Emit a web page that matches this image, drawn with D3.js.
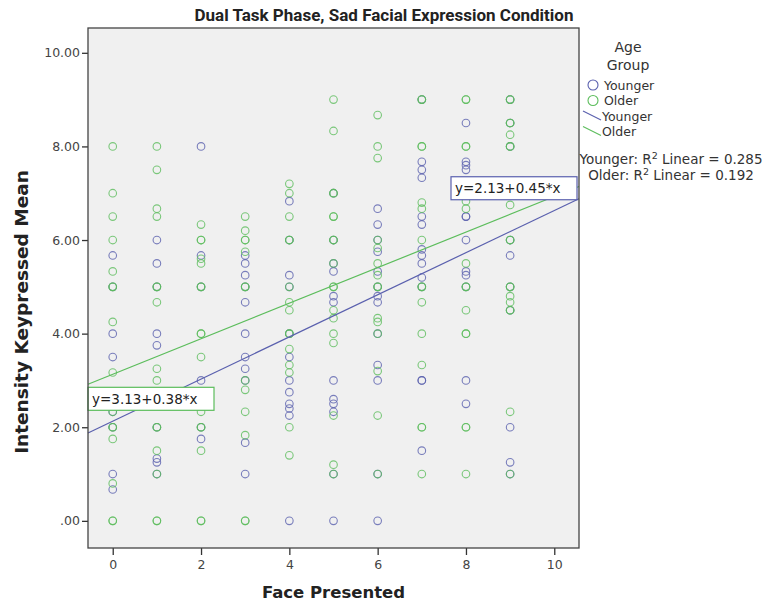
<!DOCTYPE html>
<html>
<head>
	<meta charset="utf-8">
	<title>Dual Task Phase, Sad Facial Expression Condition</title>
	<script src="https://d3js.org/d3.v7.min.js"></script>
	<style>
		body { margin: 0; background: #fff; }
	</style>
</head>
<body>
	<div class="chart"></div>

	<script type="text/javascript">

		// face presented (x categories)
		const faces = [0, 1, 2, 3, 4, 5, 6, 7, 8, 9]

		// intensity keypressed mean, one list per face
		const younger = [
			[5.67, 5.0, 4.0, 3.5, 2.33, 2.0, 1.0, 0.67],
			[6.0, 5.5, 5.0, 4.0, 3.75, 2.0, 1.33, 1.25, 1.0],
			[8.0, 5.67, 5.0, 3.0, 2.0, 1.75],
			[5.67, 5.5, 5.25, 5.0, 4.67, 4.0, 3.5, 3.25, 3.0, 1.67, 1.0],
			[6.83, 6.0, 5.25, 5.0, 4.0, 3.5, 3.0, 2.75, 2.5, 2.4, 2.25, 0],
			[7.0, 6.0, 5.5, 5.33, 4.8, 4.67, 3.0, 2.6, 2.5, 2.33, 1.0, 0],
			[6.67, 6.33, 6.0, 5.75, 5.33, 5.0, 4.8, 4.67, 4.0, 3.33, 3.0, 1.0, 0],
			[9.0, 7.67, 7.5, 7.33, 6.5, 6.33, 5.8, 5.67, 5.5, 5.2, 5.0, 3.0, 3.0, 1.5],
			[8.5, 7.67, 7.6, 7.5, 6.5, 6.5, 6.0, 5.33, 5.25, 5.0, 3.0, 2.5],
			[9.0, 8.5, 8.0, 6.0, 5.67, 5.0, 4.5, 2.0, 1.25, 1.0]
		]
		const older = [
			[8.0, 7.0, 6.5, 6.0, 5.33, 5.0, 5.0, 4.25, 3.17, 2.33, 2.0, 2.0, 1.75, 0.8, 0, 0],
			[8.0, 7.5, 6.67, 6.5, 5.0, 5.0, 4.67, 3.25, 3.0, 2.0, 2.0, 1.5, 1.0, 0, 0],
			[6.33, 6.0, 6.0, 5.6, 5.5, 5.0, 5.0, 4.0, 4.0, 3.5, 2.33, 2.0, 2.0, 1.5, 0, 0],
			[6.5, 6.2, 6.0, 6.0, 5.75, 5.0, 5.0, 3.0, 2.8, 2.33, 1.83, 0, 0],
			[7.2, 7.0, 6.5, 6.0, 6.0, 5.0, 4.67, 4.5, 4.0, 4.0, 3.67, 3.33, 3.17, 2.0, 1.4],
			[9.0, 8.33, 7.0, 7.0, 6.5, 6.5, 6.0, 6.0, 5.5, 5.0, 5.0, 4.5, 4.33, 4.0, 3.8, 2.25, 1.2, 1.0],
			[8.67, 8.0, 7.75, 6.0, 5.83, 5.5, 5.25, 5.0, 5.0, 4.33, 4.25, 4.0, 3.2, 2.25, 1.0],
			[9.0, 9.0, 8.0, 8.0, 6.8, 6.67, 6.0, 5.0, 5.0, 4.67, 4.0, 3.33, 2.0, 2.0, 1.0],
			[9.0, 9.0, 8.0, 8.0, 6.83, 6.67, 5.5, 5.0, 5.0, 4.5, 4.0, 4.0, 2.0, 2.0, 1.0],
			[9.0, 9.0, 8.5, 8.5, 8.25, 8.0, 8.0, 6.75, 6.0, 6.0, 5.0, 5.0, 4.8, 4.67, 4.5, 4.5, 2.33, 1.0]
		]

		// groups, fit lines (intercept, slope) and R2
		const groups = ['Younger', 'Older']
		const intercepts = [2.13, 3.13]
		const slopes = [0.45, 0.38]
		const rSquared = ['0.285', '0.192']

		// tick labels
		const xTicks = [0, 2, 4, 6, 8, 10]
		const yTicks = [0, 2, 4, 6, 8, 10]

		var width = 764
		var height = 604
		var plot = { left: 88, top: 28, right: 579, bottom: 548 }

		var colors = { Younger: '#5a60ae', Older: '#5cbd5c' }

		var svg = d3
			.select('.chart')
			.append('svg')
			.attr('width', width)
			.attr('height', height)
			.style('font-family', 'DejaVu Sans, sans-serif')

		/**
		 * scales
		 */
		const x = d3.scaleLinear().domain([-0.56, 10.56]).range([plot.left, plot.right])
		const y = d3.scaleLinear().domain([-0.58, 10.53]).range([plot.bottom, plot.top])

		// plot background
		svg.append('rect')
			.attr('x', plot.left)
			.attr('y', plot.top)
			.attr('width', plot.right - plot.left)
			.attr('height', plot.bottom - plot.top)
			.attr('fill', '#f0f0f0')

		/**
		 * axes
		 */
		svg.append('g')
			.attr('class', 'axis')
			.attr('transform', `translate(${plot.left}, 0)`)
			.call(d3.axisLeft(y).tickValues(yTicks).tickSize(6).tickPadding(2)
				.tickFormat((d) => d === 0 ? '.00' : d.toFixed(2)))

		svg.append('g')
			.attr('class', 'axis')
			.attr('transform', `translate(0, ${plot.bottom})`)
			.call(d3.axisBottom(x).tickValues(xTicks).tickSize(7).tickPadding(5))

		svg.selectAll('.axis .domain').remove()
		svg.selectAll('.axis line').attr('stroke', '#333').attr('stroke-width', 1.3)
		svg.selectAll('.axis text')
			.attr('fill', '#444')
			.style('font-size', '12.5px')
			.style('font-family', 'DejaVu Sans, sans-serif')

		/**
		 * points
		 */
		const points = []
		groups.forEach((g, gi) => {
			const src = gi === 0 ? younger : older
			faces.forEach((f, i) => {
				src[i].forEach((v) => points.push({ group: g, face: f, value: v }))
			})
		})

		svg.append('g')
			.selectAll('circle')
			.data(points)
			.enter()
			.append('circle')
			.attr('cx', (d) => x(d.face))
			.attr('cy', (d) => y(d.value))
			.attr('r', 3.8)
			.attr('fill', 'none')
			.attr('stroke', (d) => colors[d.group])
			.attr('stroke-opacity', 0.8)
			.attr('stroke-width', 1.1)

		/**
		 * fit lines
		 */
		const xDom = x.domain()
		const fits = groups.map((g, i) => ({
			group: g,
			a: intercepts[i],
			b: slopes[i],
			pts: xDom.map((xv) => [xv, intercepts[i] + slopes[i] * xv])
		}))

		svg.append('g')
			.selectAll('path')
			.data(fits)
			.enter()
			.append('path')
			.attr('fill', 'none')
			.attr('stroke', (d) => colors[d.group])
			.attr('stroke-width', 1.2)
			.attr('d', (d) => d3.line().x((p) => x(p[0])).y((p) => y(p[1]))(d.pts))

		// equation labels: older at the left end, younger at the right end
		fits.forEach((d) => {
			const txt = `y=${d.a.toFixed(2)}+${d.b.toFixed(2)}*x`
			const bw = 126, bh = 23
			var bx, by
			if (d.group === 'Older') {
				bx = x(xDom[0])
				by = y(d.pts[0][1]) + 3
			} else {
				bx = x(xDom[1]) - bw - 2
				by = y(d.pts[1][1]) - bh + 1
			}
			const lab = svg.append('g').attr('transform', `translate(${bx}, ${by})`)
			lab.append('rect')
				.attr('width', bw)
				.attr('height', bh)
				.attr('fill', '#fff')
				.attr('stroke', colors[d.group])
				.attr('stroke-width', 1.2)
			lab.append('text')
				.attr('x', 4)
				.attr('y', 16.5)
				.attr('fill', '#222')
				.style('font-size', '13.5px')
				.text(txt)
		})

		// frame
		svg.append('rect')
			.attr('x', plot.left)
			.attr('y', plot.top)
			.attr('width', plot.right - plot.left)
			.attr('height', plot.bottom - plot.top)
			.attr('fill', 'none')
			.attr('stroke', '#444')
			.attr('stroke-width', 1.3)

		/**
		 * titles
		 */
		svg.append('text')
			.attr('x', 384)
			.attr('y', 21)
			.attr('text-anchor', 'middle')
			.attr('fill', '#222')
			.style('font-family', 'Liberation Sans Narrow, Roboto, sans-serif')
			.style('font-weight', 'bold')
			.style('font-size', '17px')
			.text('Dual Task Phase, Sad Facial Expression Condition')

		svg.append('text')
			.attr('x', (plot.left + plot.right) / 2)
			.attr('y', 598)
			.attr('text-anchor', 'middle')
			.attr('fill', '#222')
			.style('font-weight', 'bold')
			.style('font-size', '16.5px')
			.text('Face Presented')

		svg.append('text')
			.attr('transform', 'translate(28, 312) rotate(-90)')
			.attr('text-anchor', 'middle')
			.attr('fill', '#222')
			.style('font-weight', 'bold')
			.style('font-size', '18.5px')
			.text('Intensity Keypressed Mean')

		/**
		 * legend
		 */
		const legend = svg.append('g').style('font-size', '12.5px').attr('fill', '#333')

		legend.append('text').attr('x', 628).attr('y', 52).attr('text-anchor', 'middle')
			.style('font-size', '14px').text('Age')
		legend.append('text').attr('x', 628).attr('y', 70).attr('text-anchor', 'middle')
			.style('font-size', '14px').text('Group')

		groups.forEach((g, i) => {
			const yy = 85 + i * 15.5
			legend.append('circle')
				.attr('cx', 593).attr('cy', yy).attr('r', 5)
				.attr('fill', 'none').attr('stroke', colors[g]).attr('stroke-width', 1.1)
			legend.append('text').attr('x', 604).attr('y', yy + 4.5).text(g)
		})

		groups.forEach((g, i) => {
			const yy = 116 + i * 15.5
			legend.append('line')
				.attr('x1', 583).attr('y1', yy - 5).attr('x2', 601).attr('y2', yy + 4)
				.attr('stroke', colors[g]).attr('stroke-width', 1.2)
			legend.append('text').attr('x', 602).attr('y', yy + 4.5).text(g)
		})

		groups.forEach((g, i) => {
			const t = legend.append('text')
				.attr('x', 671).attr('y', 164 + i * 16)
				.attr('text-anchor', 'middle')
				.style('font-size', '13.5px')
			t.append('tspan').text(`${g}: R`)
			t.append('tspan').attr('dy', -5).style('font-size', '9.5px').text('2')
			t.append('tspan').attr('dy', 5).text(` Linear = ${rSquared[i]}`)
		})

	</script>
</body>
</html>
